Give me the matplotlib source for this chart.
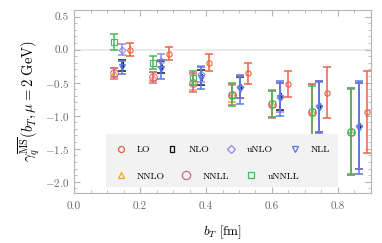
import matplotlib
matplotlib.use("Agg")
import matplotlib.pyplot as plt
import numpy as np
from matplotlib.patches import Rectangle
from matplotlib.lines import Line2D
from matplotlib.ticker import MultipleLocator

plt.rcParams['font.family'] = 'serif'
plt.rcParams['font.serif'] = ['cmr10', 'DejaVu Serif']
plt.rcParams['mathtext.fontset'] = 'cm'
plt.rcParams['axes.formatter.use_mathtext'] = True

# b_T values (fm)
b_T = [0.12, 0.24, 0.36, 0.48, 0.60, 0.72, 0.84]

# central values and errors for each series
LO = [0.00, -0.06, -0.20, -0.36, -0.52, -0.65, -0.94]
LO_err = [0.10, 0.10, 0.13, 0.16, 0.20, 0.38, 0.62]

NLO = [-0.24, -0.27, -0.42, -0.57, -0.71, -0.86, -1.15]
NLO_err = [0.08, 0.09, 0.11, 0.16, 0.21, 0.38, 0.65]

uNLO = [0.00, -0.17, -0.37, -0.57, -0.72, -0.86, -1.15]
uNLO_err = [0.08, 0.10, 0.12, 0.17, 0.22, 0.38, 0.65]

NLL = [-0.27, -0.30, -0.43, -0.60, -0.74, -0.88, -1.18]
NLL_err = [0.10, 0.15, 0.17, 0.22, 0.27, 0.39, 0.70]

NNLO = [-0.35, -0.41, -0.49, -0.67, -0.82, -0.94, -1.24]
NNLO_err = [0.07, 0.07, 0.12, 0.13, 0.20, 0.42, 0.66]

NNLL = [-0.36, -0.42, -0.50, -0.68, -0.82, -0.94, -1.24]
NNLL_err = [0.08, 0.08, 0.14, 0.16, 0.21, 0.42, 0.66]

uNNLL = [0.11, -0.20, -0.43, -0.68, -0.82, -0.95, -1.24]
uNNLL_err = [0.12, 0.10, 0.10, 0.17, 0.20, 0.40, 0.64]

labels = ['LO', 'NLO', 'uNLO', 'NLL', 'NNLO', 'NNLL', 'uNNLL']

rect_marker = [(-0.45, -1), (0.45, -1), (0.45, 1), (-0.45, 1), (-0.45, -1)]

series = [
    # label, values, errors, x-shift, color, marker, size  (draw order)
    ('NLO', NLO, NLO_err, 0.024, '#111111', rect_marker, 4.5),
    ('NNLO', NNLO, NNLO_err, 0.0, '#f5a21f', '^', 4.0),
    ('NNLL', NNLL, NNLL_err, 0.0, '#d5668e', 'o', 5.5),
    ('uNLO', uNLO, uNLO_err, 0.024, '#9488e0', 'D', 3.5),
    ('NLL', NLL, NLL_err, 0.024, '#5877e4', 'v', 4.0),
    ('uNNLL', uNNLL, uNNLL_err, 0.0, '#44b85e', 's', 4.0),
    ('LO', LO, LO_err, 0.048, '#ec5f3a', 'o', 3.8),
]

fig = plt.figure(figsize=(3.82, 2.43), dpi=100)
ax = fig.add_axes([0.194, 0.206, 0.777, 0.753])

ax.axhline(0, color='#ebebeb', lw=1.5, zorder=0)

handles = {}
for i, (lab, vals, errs, dx, col, mk, ms) in enumerate(series):
    x = np.array(b_T) + dx
    eb = ax.errorbar(x, vals, yerr=errs, fmt='none', ecolor=col, elinewidth=1.08,
                     capsize=2.8, capthick=1.08, zorder=2 + 0.1 * i)
    for c in eb[2]:
        c.set_snap(True)
    ax.plot(x, vals, linestyle='none', marker=mk, markersize=ms,
            markerfacecolor='none', markeredgecolor=col, markeredgewidth=0.8,
            zorder=2.05 + 0.1 * i)
    handles[lab] = Line2D([], [], linestyle='none', marker=mk, markersize=ms + 0.5,
                          markerfacecolor='none', markeredgecolor=col, markeredgewidth=0.9)

ax.set_xlim(0, 0.9)
ax.set_ylim(-2.17, 0.6)
ax.xaxis.set_major_locator(MultipleLocator(0.2))
ax.xaxis.set_minor_locator(MultipleLocator(0.05))
ax.yaxis.set_major_locator(MultipleLocator(0.5))
ax.yaxis.set_minor_locator(MultipleLocator(0.1))
ax.xaxis.set_major_formatter(matplotlib.ticker.FormatStrFormatter('%.1f'))
ax.yaxis.set_major_formatter(matplotlib.ticker.FuncFormatter(
    lambda v, p: ('$-$' if v < -1e-9 else '') + '%.1f' % abs(v)))

for s in ax.spines.values():
    s.set_color('#b4b4b4')
    s.set_linewidth(0.8)
ax.tick_params(which='both', direction='in', top=True, right=True,
               color='#b4b4b4', labelcolor='#666666', labelsize=8)
ax.tick_params(which='major', length=4, width=0.8)
ax.tick_params(axis='x', which='major', pad=6)
ax.tick_params(which='minor', length=2, width=0.6)

ax.set_xlabel(r'$b_T$ [fm]', fontsize=9.5, labelpad=9)
ax.set_ylabel(r'$\gamma_q^{\overline{\mathrm{MS}}}(b_T,\mu=2\ \mathrm{GeV})$', fontsize=10.5, labelpad=2)

# legend background box
box = Rectangle((0.108, 0.033), 0.781, 0.289, transform=ax.transAxes,
                facecolor='#f2f2f2', edgecolor='none', zorder=6)
ax.add_patch(box)

row1 = ['LO', 'NLO', 'uNLO', 'NLL']
row2 = ['NNLO', 'NNLL', 'uNNLL']
common = dict(frameon=False, fontsize=7, handlelength=1.0, handletextpad=1.2,
              columnspacing=1.7, borderpad=0, borderaxespad=0, loc='center left')
leg1 = ax.legend([handles[l] for l in row1], row1, ncol=4,
                 bbox_to_anchor=(0.14, 0.237), **common)
leg1.set_zorder(7)
ax.add_artist(leg1)
leg2 = ax.legend([handles[l] for l in row2], row2, ncol=3,
                 bbox_to_anchor=(0.14, 0.09), **common)
leg2.set_zorder(7)

fig.savefig('out.png', dpi=100)
